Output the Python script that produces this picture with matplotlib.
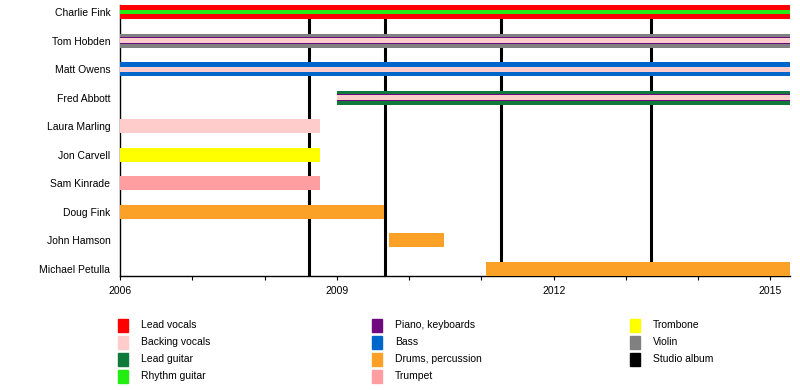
import matplotlib
matplotlib.use("Agg")
import matplotlib.pyplot as plt
from matplotlib.patches import Rectangle

plt.rcParams['font.family'] = ['Liberation Sans', 'DejaVu Sans']

# ---- data ----
members = ["Charlie Fink", "Tom Hobden", "Matt Owens", "Fred Abbott", "Laura Marling",
           "Jon Carvell", "Sam Kinrade", "Doug Fink", "John Hamson", "Michael Petulla"]

END = 2015.27
bar_member = ["Charlie Fink", "Charlie Fink",
              "Tom Hobden", "Tom Hobden", "Tom Hobden",
              "Matt Owens", "Matt Owens",
              "Fred Abbott", "Fred Abbott", "Fred Abbott",
              "Laura Marling", "Jon Carvell", "Sam Kinrade",
              "Doug Fink", "John Hamson", "Michael Petulla"]
bar_role = ["Lead vocals", "Rhythm guitar",
            "Violin", "Piano, keyboards", "Backing vocals",
            "Bass", "Backing vocals",
            "Lead guitar", "Piano, keyboards", "Backing vocals",
            "Backing vocals", "Trombone", "Trumpet",
            "Drums, percussion", "Drums, percussion", "Drums, percussion"]
bar_start = [2006.0, 2006.0,
             2006.0, 2006.0, 2006.0,
             2006.0, 2006.0,
             2009.0, 2009.0, 2009.0,
             2006.0, 2006.0, 2006.0,
             2006.0, 2009.72, 2011.06]
bar_end = [END, END,
           END, END, END,
           END, END,
           END, END, END,
           2008.77, 2008.77, 2008.77,
           2009.65, 2010.48, END]

albums = [2008.61, 2009.66, 2011.27, 2013.34]

roles = ["Lead vocals", "Backing vocals", "Lead guitar", "Rhythm guitar",
         "Piano, keyboards", "Bass", "Drums, percussion", "Trumpet",
         "Trombone", "Violin", "Studio album"]
role_colors = {
    "Lead vocals": "#ff0000",
    "Backing vocals": "#ffcccc",
    "Lead guitar": "#0f7a3c",
    "Rhythm guitar": "#22ee11",
    "Piano, keyboards": "#6e0a7e",
    "Bass": "#0066cc",
    "Drums, percussion": "#fca127",
    "Trumpet": "#ff9ea0",
    "Trombone": "#ffff00",
    "Violin": "#808080",
    "Studio album": "#000000",
}

# ---- styling: bar thickness by layer within a member row ----
layer_heights = {1: [0.49], 2: [0.49, 0.17], 3: [0.49, 0.26, 0.18]}

fig = plt.figure(figsize=(8, 3.9), dpi=100)
ax = fig.add_axes([120/800, 1-276/390, 670/800, 271/390])

ypos = {m: len(members) - 1 - i for i, m in enumerate(members)}
counts = {m: bar_member.count(m) for m in members}
seen = {m: 0 for m in members}
for m, r, s, e in zip(bar_member, bar_role, bar_start, bar_end):
    h = layer_heights[counts[m]][seen[m]]
    seen[m] += 1
    ax.barh(ypos[m], e - s, left=s, height=h, color=role_colors[r], linewidth=0, zorder=2 + seen[m])

for a in albums:
    ax.axvline(a, color="black", linewidth=2.2, zorder=1)

ax.set_xlim(2006, END)
ax.set_ylim(-0.245, len(members) - 1 + 0.245)
ax.set_yticks([ypos[m] for m in members])
ax.set_yticklabels(members, fontsize=7.5)
ax.tick_params(axis='y', length=0, pad=7)
ax.set_xticks([2006, 2009, 2012, 2015])
ax.set_xticks(list(range(2006, 2016)), minor=True)
ax.tick_params(axis='x', which='both', direction='out', length=3, width=0.8, labelsize=7.5, pad=4)
for s in ["top", "right"]:
    ax.spines[s].set_visible(False)
for s in ["left", "bottom"]:
    ax.spines[s].set_linewidth(1.0)

# ---- legend (manual, three columns) ----
col_x = [118, 372, 630]
row_y = [325, 342, 359, 376]
for i, r in enumerate(roles):
    c, rr = divmod(i, 4)
    x = col_x[c]
    y = row_y[rr]
    fig.patches.append(Rectangle((x/800, 1-(y+6.5)/390), 10/800, 13/390,
                                 transform=fig.transFigure, color=role_colors[r]))
    fig.text((x+23)/800, 1-y/390, r, fontsize=7.5, va='center', ha='left')

fig.savefig("out.png", dpi=100)
